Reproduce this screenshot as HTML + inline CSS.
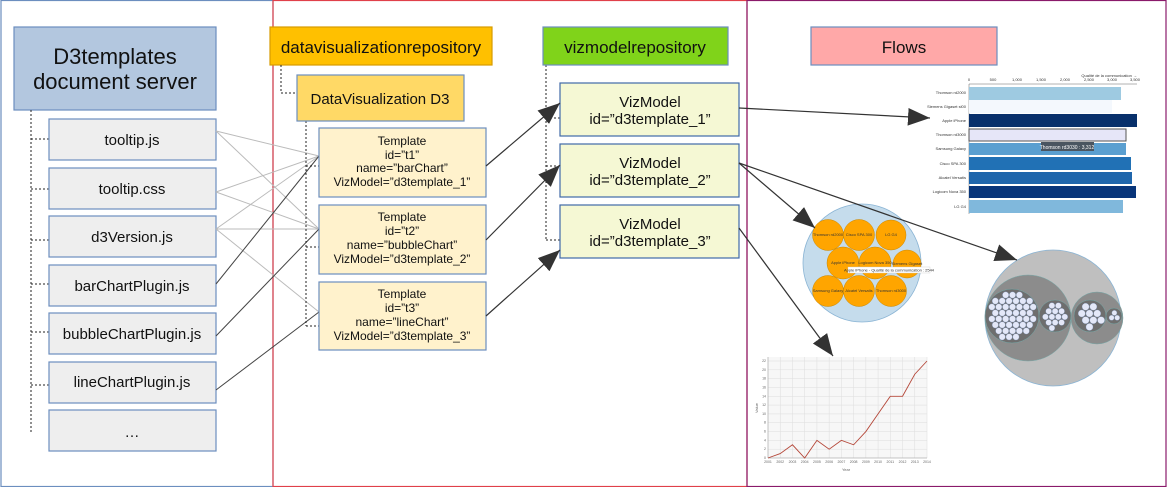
<!DOCTYPE html>
<html><head><meta charset="utf-8"><style>
html,body{margin:0;padding:0;background:#fff;}
svg{display:block;font-family:"Liberation Sans",sans-serif;}
</style></head><body>
<svg id="s" width="1168" height="487" viewBox="0 0 1168 487" xmlns="http://www.w3.org/2000/svg">
<defs>
<marker id="ah" viewBox="0 0 10 10" refX="10" refY="5" markerWidth="10" markerHeight="10" markerUnits="userSpaceOnUse" orient="auto"><path d="M0,0 L10,5 L0,10 z" fill="#333"/></marker>
<marker id="ahb" viewBox="0 0 10 10" refX="10" refY="5" markerWidth="22" markerHeight="22" markerUnits="userSpaceOnUse" orient="auto"><path d="M0,1 L10,5 L0,9 z" fill="#333"/></marker>
</defs>
<!-- panels -->
<rect x="1" y="0.5" width="272" height="486" fill="none" stroke="#6c8ebf" stroke-width="1.2"/>
<rect x="273" y="0.5" width="474" height="486" fill="none" stroke="#e0404a" stroke-width="1.2"/>
<rect x="747" y="0.5" width="419" height="486" fill="none" stroke="#8a1a6a" stroke-width="1.2"/>

<!-- left column -->
<rect x="14" y="27" width="202" height="83" fill="#b3c7df" stroke="#6c8ebf" stroke-width="1.2"/>
<text x="115" y="64" font-size="22" text-anchor="middle" fill="#111">D3templates</text>
<text x="115" y="89" font-size="22" text-anchor="middle" fill="#111">document server</text>
<g fill="none" stroke="#222" stroke-dasharray="2,2">
<path d="M31 110 V432"/>
<path d="M31 139 H49 M31 189 H49 M31 240 H49 M31 284 H49 M31 332 H49 M31 385 H49"/>
</g>
<g fill="#eeeeee" stroke="#6c8ebf" stroke-width="1.2">
<rect x="49" y="119" width="167" height="41"/>
<rect x="49" y="168" width="167" height="41"/>
<rect x="49" y="216" width="167" height="41"/>
<rect x="49" y="265" width="167" height="41"/>
<rect x="49" y="313" width="167" height="41"/>
<rect x="49" y="362" width="167" height="41"/>
<rect x="49" y="410" width="167" height="41"/>
</g>
<g font-size="15" text-anchor="middle" fill="#111">
<text x="132" y="145">tooltip.js</text>
<text x="132" y="194">tooltip.css</text>
<text x="132" y="242">d3Version.js</text>
<text x="132" y="291">barChartPlugin.js</text>
<text x="132" y="339">bubbleChartPlugin.js</text>
<text x="132" y="387">lineChartPlugin.js</text>
<text x="132" y="437">…</text>
</g>

<!-- connections files -> templates -->
<g stroke="#bbb" stroke-width="1" fill="none">
<path d="M216 131 L319 156 M216 131 L319 229"/>
<path d="M216 192 L319 156 M216 192 L319 229"/>
<path d="M216 229 L319 156 M216 229 L319 229 M216 229 L319 312"/>
</g>
<g stroke="#444" stroke-width="1" fill="none">
<path d="M216 284 L319 156"/>
<path d="M216 336 L319 229"/>
<path d="M216 390 L319 312"/>
</g>

<!-- middle -->
<rect x="270" y="27" width="222" height="38" fill="#ffc000" stroke="#d79b00" stroke-width="1.2"/>
<text x="381" y="53" font-size="17" text-anchor="middle" fill="#111">datavisualizationrepository</text>
<g fill="none" stroke="#222" stroke-dasharray="2,2">
<path d="M281 65 V93 H297"/>
<path d="M306 121 V326"/>
<path d="M306 166 H319 M306 247 H319 M306 326 H319"/>
<path d="M546 65 V240"/>
<path d="M546 118 H560 M546 166 H560 M546 240 H560"/>
</g>
<rect x="297" y="75" width="167" height="46" fill="#ffd966" stroke="#6c8ebf" stroke-width="1.2"/>
<text x="380" y="104" font-size="15" text-anchor="middle" fill="#111">DataVisualization D3</text>
<g fill="#fff2cc" stroke="#6c8ebf" stroke-width="1.2">
<rect x="319" y="128" width="167" height="69"/>
<rect x="319" y="205" width="167" height="69"/>
<rect x="319" y="282" width="167" height="68"/>
</g>
<g font-size="12" text-anchor="middle" fill="#111">
<text x="402" y="145">Template</text><text x="402" y="159">id=”t1”</text><text x="402" y="172">name=”barChart”</text><text x="402" y="186">VizModel=”d3template_1”</text>
<text x="402" y="221">Template</text><text x="402" y="235">id=”t2”</text><text x="402" y="249">name=”bubbleChart”</text><text x="402" y="263">VizModel=”d3template_2”</text>
<text x="402" y="298">Template</text><text x="402" y="312">id=”t3”</text><text x="402" y="326">name=”lineChart”</text><text x="402" y="340">VizModel=”d3template_3”</text>
</g>

<rect x="543" y="27" width="185" height="38" fill="#80d31a" stroke="#6c8ebf" stroke-width="1.2"/>
<text x="635" y="53" font-size="17" text-anchor="middle" fill="#111">vizmodelrepository</text>
<g fill="#f5f8d4" stroke="#3f6aa8" stroke-width="1.2">
<rect x="560" y="83" width="179" height="53"/>
<rect x="560" y="144" width="179" height="53"/>
<rect x="560" y="205" width="179" height="53"/>
</g>
<g font-size="15" text-anchor="middle" fill="#111">
<text x="650" y="107">VizModel</text><text x="650" y="124">id=”d3template_1”</text>
<text x="650" y="168">VizModel</text><text x="650" y="185">id=”d3template_2”</text>
<text x="650" y="229">VizModel</text><text x="650" y="246">id=”d3template_3”</text>
</g>
<g stroke="#333" stroke-width="1.2" fill="none">
<path d="M486 166 L560 103" marker-end="url(#ahb)"/>
<path d="M486 240 L560 165" marker-end="url(#ahb)"/>
<path d="M486 316 L560 250" marker-end="url(#ahb)"/>
</g>

<!-- flows -->
<rect x="811" y="27" width="186" height="38" fill="#ffa8a8" stroke="#6c8ebf" stroke-width="1.2"/>
<text x="904" y="53" font-size="17" text-anchor="middle" fill="#111">Flows</text>

<!-- bar chart -->
<g font-size="4" fill="#333">
<line x1="969" y1="84" x2="1137" y2="84" stroke="#666" stroke-width="0.5"/>
<line x1="969" y1="84" x2="969" y2="214" stroke="#666" stroke-width="0.5"/>
<text x="969" y="81" text-anchor="middle">0</text><text x="993" y="81" text-anchor="middle">500</text><text x="1017" y="81" text-anchor="middle">1,000</text><text x="1041" y="81" text-anchor="middle">1,500</text><text x="1065" y="81" text-anchor="middle">2,000</text><text x="1089" y="81" text-anchor="middle">2,500</text><text x="1112" y="81" text-anchor="middle">3,000</text><text x="1135" y="81" text-anchor="middle">3,500</text>
<text x="1137" y="77" text-anchor="end">Qualité de la communication →</text>
<text x="966" y="94" text-anchor="end">Thomson rd2000</text>
<text x="966" y="108" text-anchor="end">Siemens Gigaset sl00</text>
<text x="966" y="122" text-anchor="end">Apple iPhone</text>
<text x="966" y="136" text-anchor="end">Thomson rd3000</text>
<text x="966" y="150" text-anchor="end">Samsung Galaxy</text>
<text x="966" y="165" text-anchor="end">Cisco SPA 300</text>
<text x="966" y="179" text-anchor="end">Alcatel Versatis</text>
<text x="966" y="193" text-anchor="end">Logicom Nova 350</text>
<text x="966" y="208" text-anchor="end">LG G4</text>
</g>
<g>
<rect x="969" y="87" width="152" height="13" fill="#9ecae1"/>
<rect x="969" y="100" width="143" height="13" fill="#f4f8fd"/>
<rect x="969" y="114" width="168" height="13" fill="#08306b"/>
<rect x="969" y="129" width="157" height="12" fill="#e6e6f8" stroke="#555" stroke-width="1"/>
<rect x="969" y="143" width="157" height="12" fill="#5a9fd0"/>
<rect x="969" y="157" width="162" height="13" fill="#2171b5"/>
<rect x="969" y="172" width="163" height="12" fill="#1f66ac"/>
<rect x="969" y="186" width="167" height="12" fill="#08357a"/>
<rect x="969" y="200" width="154" height="13" fill="#80b8dc"/>
<rect x="1041" y="142" width="53" height="9" fill="#4a5560"/>
<text x="1067" y="149" font-size="5" fill="#fff" text-anchor="middle">Thomson rd3030 : 3,312</text>
</g>

<!-- bubble chart -->
<circle cx="862" cy="263" r="59" fill="#c5dcec" stroke="#8ab4d4" stroke-width="0.8"/>
<g fill="#ffa500" stroke="#c98600" stroke-width="0.5">
<circle cx="828" cy="235" r="15.5"/><circle cx="859" cy="235" r="15.5"/><circle cx="891" cy="235" r="15"/>
<circle cx="843" cy="263" r="16"/><circle cx="875" cy="263" r="16"/><circle cx="907" cy="264" r="14"/>
<circle cx="828" cy="291" r="15.5"/><circle cx="859" cy="291" r="15.5"/><circle cx="891" cy="291" r="15.5"/>
</g>
<rect x="848" y="267" width="82" height="6" fill="#fff" stroke="#ccc" stroke-width="0.4"/>
<g font-size="4" fill="#333" text-anchor="middle">
<text x="828" y="236">Thomson rd2000</text><text x="859" y="236">Cisco SPA 300</text><text x="891" y="236">LG G4</text>
<text x="843" y="264">Apple iPhone</text><text x="875" y="264">Logicom Nova 350</text><text x="907" y="265">Siemens Gigaset</text>
<text x="828" y="292">Samsung Galaxy</text><text x="859" y="292">Alcatel Versatis</text><text x="891" y="292">Thomson rd3000</text>
<text x="889" y="271.5">Apple iPhone - Qualité de la communication : 2544</text>
</g>

<!-- pack chart -->
<circle cx="1053" cy="318" r="68" fill="#bfbfbf" stroke="#8ab4d4" stroke-width="0.8"/>
<circle cx="1028" cy="318" r="43" fill="#8c8c8c" stroke="#7aa" stroke-width="0.5"/>
<circle cx="1012" cy="316" r="27" fill="#6e6e6e" stroke="#7aa" stroke-width="0.5"/>
<circle cx="1055" cy="316" r="16" fill="#6e6e6e" stroke="#7aa" stroke-width="0.5"/>
<circle cx="1097" cy="318" r="26" fill="#8c8c8c" stroke="#7aa" stroke-width="0.5"/>
<circle cx="1090" cy="316" r="16" fill="#6e6e6e" stroke="#7aa" stroke-width="0.5"/>
<circle cx="1114" cy="316" r="8" fill="#6e6e6e" stroke="#7aa" stroke-width="0.5"/>
<g id="dots" fill="#e4e8f8" stroke="#6680aa" stroke-width="0.3"></g>

<!-- line chart -->
<rect x="768" y="357" width="159" height="101" fill="#f7f7f7"/>
<g id="grid" stroke="#ddd" stroke-width="0.5"></g>
<line x1="768" y1="458" x2="927" y2="458" stroke="#999" stroke-width="0.5"/>
<line x1="768" y1="357" x2="768" y2="458" stroke="#999" stroke-width="0.5"/>
<polyline id="ln" fill="none" stroke="#b5483a" stroke-width="0.9"/>
<g id="lbl" font-size="3.5" fill="#666"></g>
<text x="846" y="471" font-size="4" fill="#666" text-anchor="middle">Year</text>
<text x="758" y="408" font-size="4" fill="#666" text-anchor="middle" transform="rotate(-90 758 408)">Value</text>

<!-- flow arrows -->
<g stroke="#333" stroke-width="1.2" fill="none">
<path d="M739 108 L930 118" marker-end="url(#ahb)"/>
<path d="M739 163 L815 228" marker-end="url(#ahb)"/>
<path d="M739 163 L1017 260" marker-end="url(#ahb)"/>
<path d="M739 228 L833 356" marker-end="url(#ahb)"/>
</g>
</svg>
<script>
var NS="http://www.w3.org/2000/svg";
function el(p,t,a,txt){var e=document.createElementNS(NS,t);for(var k in a)e.setAttribute(k,a[k]);if(txt)e.textContent=txt;p.appendChild(e);return e;}
var d=document.getElementById("dots");
[[1012,316,27,3.2],[1055,316,16,3],[1090,316,16,3.6],[1114,316,8,2.6]].forEach(function(c){
 var s=c[3]*2.15;
 for(var y=c[1]-c[2];y<=c[1]+c[2];y+=s*0.87){
  var row=Math.round((y-c[1])/(s*0.87));
  for(var x=c[0]-c[2];x<=c[0]+c[2];x+=s){
   var xx=x+(row%2?s/2:0);
   if(Math.hypot(xx-c[0],y-c[1])<c[2]-c[3]-0.5) el(d,"circle",{cx:xx,cy:y,r:c[3]});
  }}
});
var g=document.getElementById("grid"),l=document.getElementById("lbl");
var vals=[0,1,3,0,4,2,4,3,6,10,14,14,19,22];
var x0=768,x1=927,y0=458,sc=(458-361)/22,pts=[];
for(var i=0;i<14;i++){var x=x0+i*(x1-x0)/13;el(g,"line",{x1:x,y1:357,x2:x,y2:458});el(l,"text",{x:x,y:463,"text-anchor":"middle"},String(2001+i));pts.push(x+","+(y0-vals[i]*sc));}
for(var v=0;v<=22;v+=2){var y=y0-v*sc;el(g,"line",{x1:768,y1:y,x2:927,y2:y});el(l,"text",{x:766,y:y+1,"text-anchor":"end"},String(v));}
document.getElementById("ln").setAttribute("points",pts.join(" "));
</script>
</body></html>
